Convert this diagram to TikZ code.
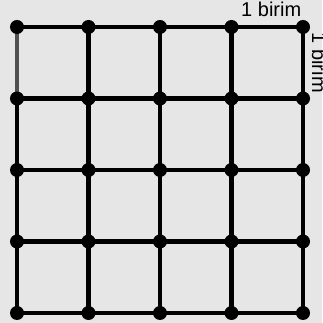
\documentclass[tikz,border=0pt]{standalone}
\usepackage{fontspec}
\setmainfont{Liberation Sans}
\usepackage{tikz}
\usetikzlibrary{calc}
\definecolor{bgGray}{HTML}{E6E6E6}
\definecolor{edgeGray}{HTML}{505050}
\tikzset{
  gridline/.style={line width=4.6pt, black},
  dot/.style={circle, fill=black, inner sep=0pt, minimum size=14pt},
  unitlabel/.style={anchor=base, font=\fontsize{20}{22}\selectfont}
}

\begin{document}
\begin{tikzpicture}[x=71.5pt, y=71.5pt]
  \useasboundingbox[fill=bgGray] (-17pt,-10pt) rectangle (305pt,313pt);
  \foreach \i in {0,...,4} {
    \foreach \j in {0,...,4} {
      \coordinate (p-\i-\j) at (\i,\j);
    }
  }
  % grid lines
  \foreach \k in {0,...,4} {
    \draw[gridline] (p-0-\k) -- (p-4-\k);
    \draw[gridline] (p-\k-0) -- (p-\k-4);
  }
  \draw[gridline, edgeGray] (p-0-3) -- (p-0-4);
  % vertices
  \foreach \i in {0,...,4} {
    \foreach \j in {0,...,4} {
      \node[dot] (v-\i-\j) at (p-\i-\j) {};
    }
  }
  \node[unitlabel] (top) at ($(p-3-4)!0.5!(p-4-4) + (4pt,10pt)$) {1 birim};
  \node[unitlabel, rotate=-90] (side) at ($(p-4-3)!0.5!(p-4-4) + (9pt,0)$) {1 birim};
\end{tikzpicture}
\end{document}
